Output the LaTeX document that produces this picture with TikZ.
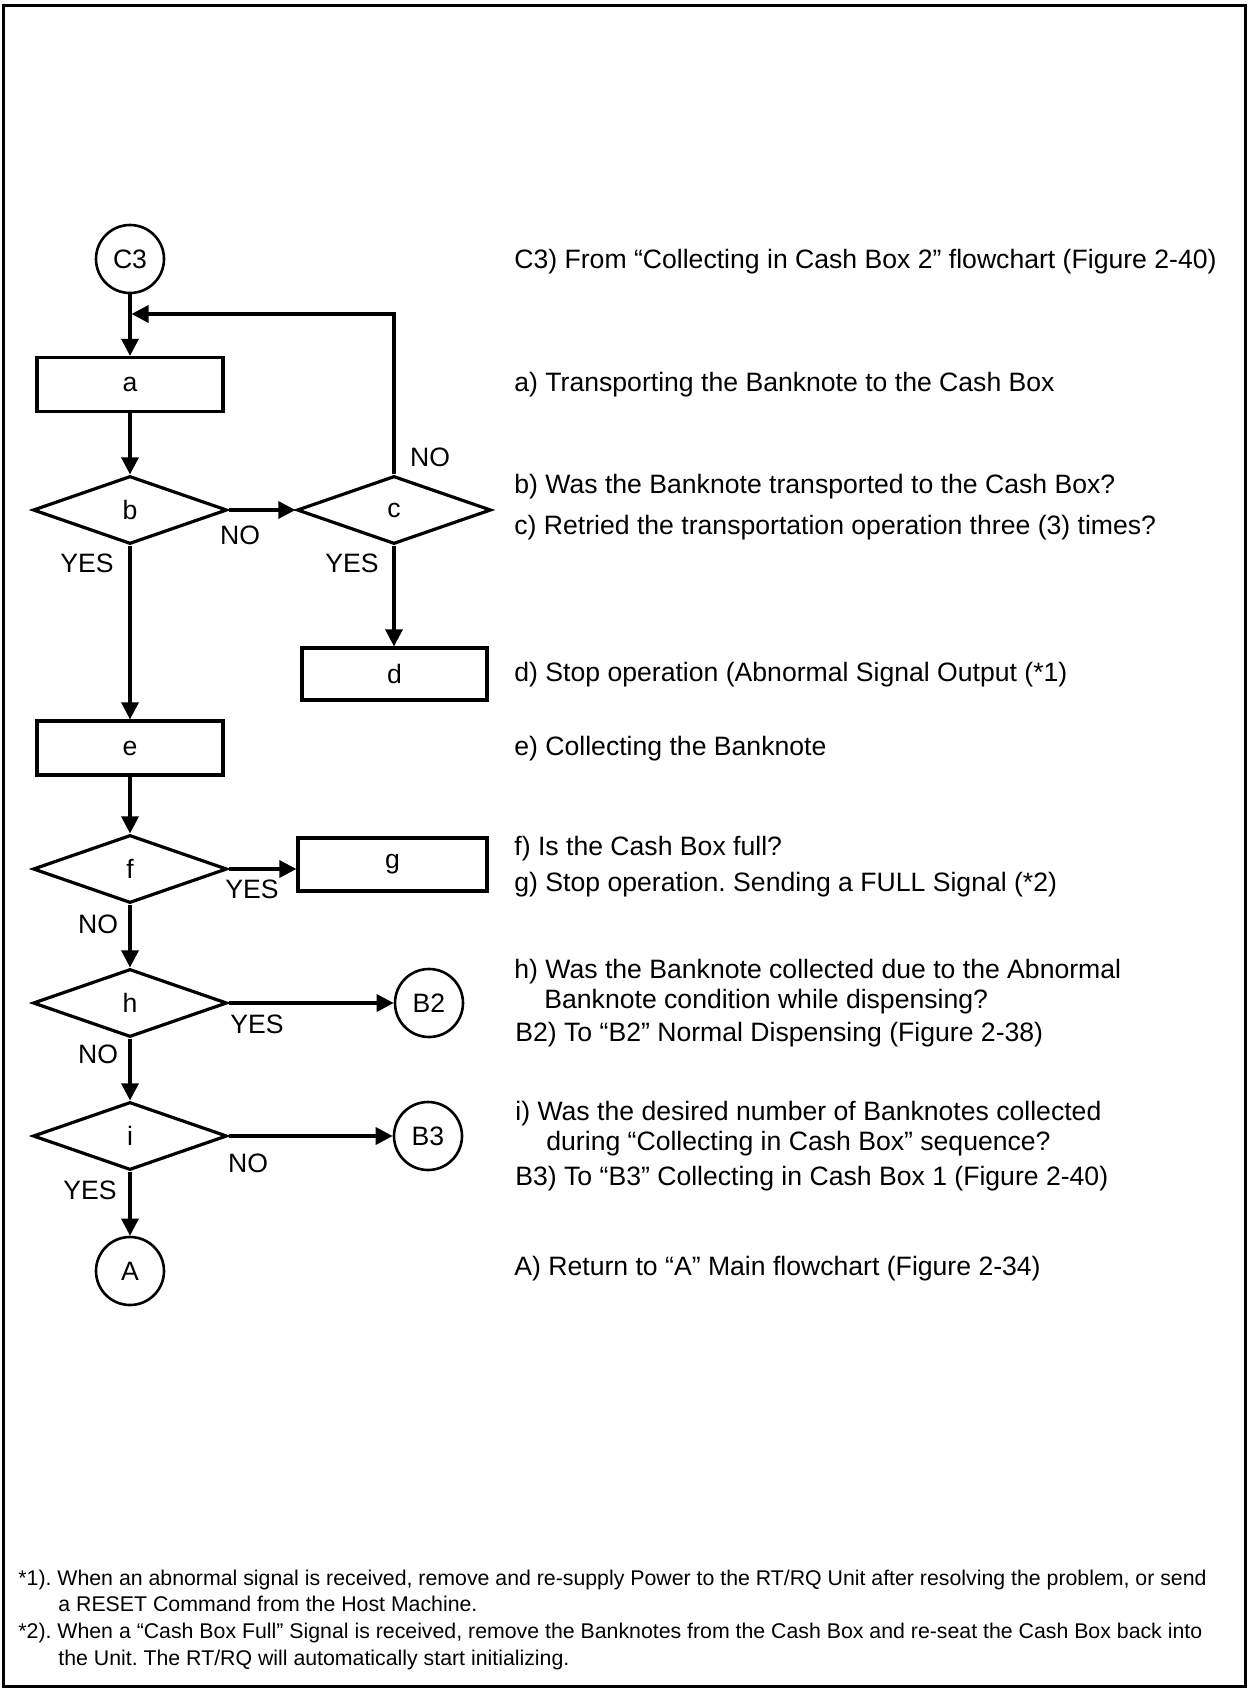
\documentclass[tikz,border=0pt]{standalone}
\usepackage{fontspec}
\setmainfont{Liberation Sans}
\usetikzlibrary{shapes.geometric,arrows.meta}
\frenchspacing
\begin{document}
\begin{tikzpicture}[x=0.5pt,y=-0.5pt,
  every node/.style={font=\fontsize{13.3pt}{16pt}\selectfont, inner sep=0pt},
  proc/.style={draw, line width=1.6pt, rectangle, minimum width=93pt, minimum height=27pt},
  dec/.style={draw, line width=1.6pt, diamond, minimum width=97pt, minimum height=34pt},
  conn/.style={draw, line width=1.3pt, circle, minimum size=34pt},
  flow/.style={line width=1.6pt, -{Triangle[length=8.5pt,width=8.5pt]}},
  desc/.style={anchor=base west},
  note/.style={anchor=base west, font=\fontsize{10.65pt}{13pt}\selectfont}
]
\useasboundingbox (0,0) rectangle (1247,1689);
\draw[line width=1.5pt] (3,6) rectangle (1245.5,1686);

% flowchart nodes
\node[conn] (C3) at (130,259) {C3};
\node[proc] (a) at (130,384.5) {a};
\node[dec] (b) at (130,510) {b};
\node[dec] (c) at (394,510) {c};
\node[proc, minimum width=92.5pt, minimum height=26pt] (d) at (394.5,674) {d};
\node[proc] (e) at (130,748) {e};
\node[dec] (f) at (130,869) {f};
\node[proc, minimum width=94.5pt, minimum height=26.5pt] (g) at (392.5,864.5) {g};
\node[dec] (h) at (130,1003) {h};
\node[conn] (B2) at (429,1003) {B2};
\node[dec] (i) at (130,1136) {i};
\node[conn] (B3) at (428,1136) {B3};
\node[conn] (A) at (130,1271) {A};
\coordinate (j) at (131.5,314);

% connectors
\draw[flow] (C3) -- (a);
\draw[flow] (a) -- (b);
\draw[flow] (b) -- (c);
\draw[flow] (c.north) |- (j);
\draw[flow] (c.south) -- (c.south |- d.north);
\draw[flow] (b) -- (e);
\draw[flow] (e) -- (f);
\draw[flow] (f.east) -- (f.east -| g.west);
\draw[flow] (f) -- (h);
\draw[flow] (h) -- (B2);
\draw[flow] (h) -- (i);
\draw[flow] (i) -- (B3);
\draw[flow] (i) -- (A);

% branch labels
\node (lcno) at (430,457) {NO};
\node (lbno) at (240,535) {NO};
\node (lbyes) at (87,563) {YES};
\node (lcyes) at (352,563) {YES};
\node (lfyes) at (252,889) {YES};
\node (lfno) at (98,924) {NO};
\node (lhyes) at (257,1024) {YES};
\node (lhno) at (98,1054) {NO};
\node (lino) at (248,1163) {NO};
\node (liyes) at (90,1190) {YES};

% descriptions
\node[desc] (t1) at (514,268.3) {C3) From “Collecting in Cash Box 2” flowchart (Figure 2-40)};
\node[desc] (t2) at (514,391.7) {a) Transporting the Banknote to the Cash Box};
\node[desc] (t3) at (514,494) {b) Was the Banknote transported to the Cash Box?};
\node[desc] (t4) at (514,535) {c) Retried the transportation operation three (3) times?};
\node[desc] (t5) at (514,681.7) {d) Stop operation (Abnormal Signal Output (*1)};
\node[desc] (t6) at (514,755) {e) Collecting the Banknote};
\node[desc] (t7) at (514,855) {f) Is the Cash Box full?};
\node[desc] (t8) at (514,891.7) {g) Stop operation. Sending a FULL Signal (*2)};
\node[desc] (t9) at (514,978) {h) Was the Banknote collected due to the Abnormal};
\node[desc] (t10) at (544,1008) {Banknote condition while dispensing?};
\node[desc] (t11) at (515,1041.7) {B2) To “B2” Normal Dispensing (Figure 2-38)};
\node[desc] (t12) at (515,1120) {i) Was the desired number of Banknotes collected};
\node[desc] (t13) at (546,1150) {during “Collecting in Cash Box” sequence?};
\node[desc] (t14) at (515,1185) {B3) To “B3” Collecting in Cash Box 1 (Figure 2-40)};
\node[desc] (t15) at (514,1275) {A) Return to “A” Main flowchart (Figure 2-34)};

% footnotes
\node[note] (n1) at (18,1585) {*1). When an abnormal signal is received, remove and re-supply Power to the RT/RQ Unit after resolving the problem, or send};
\node[note] (n2) at (58,1611.7) {a RESET Command from the Host Machine.};
\node[note] (n3) at (18,1638) {*2). When a “Cash Box Full” Signal is received, remove the Banknotes from the Cash Box and re-seat the Cash Box back into};
\node[note] (n4) at (58,1665) {the Unit. The RT/RQ will automatically start initializing.};
\end{tikzpicture}
\end{document}
